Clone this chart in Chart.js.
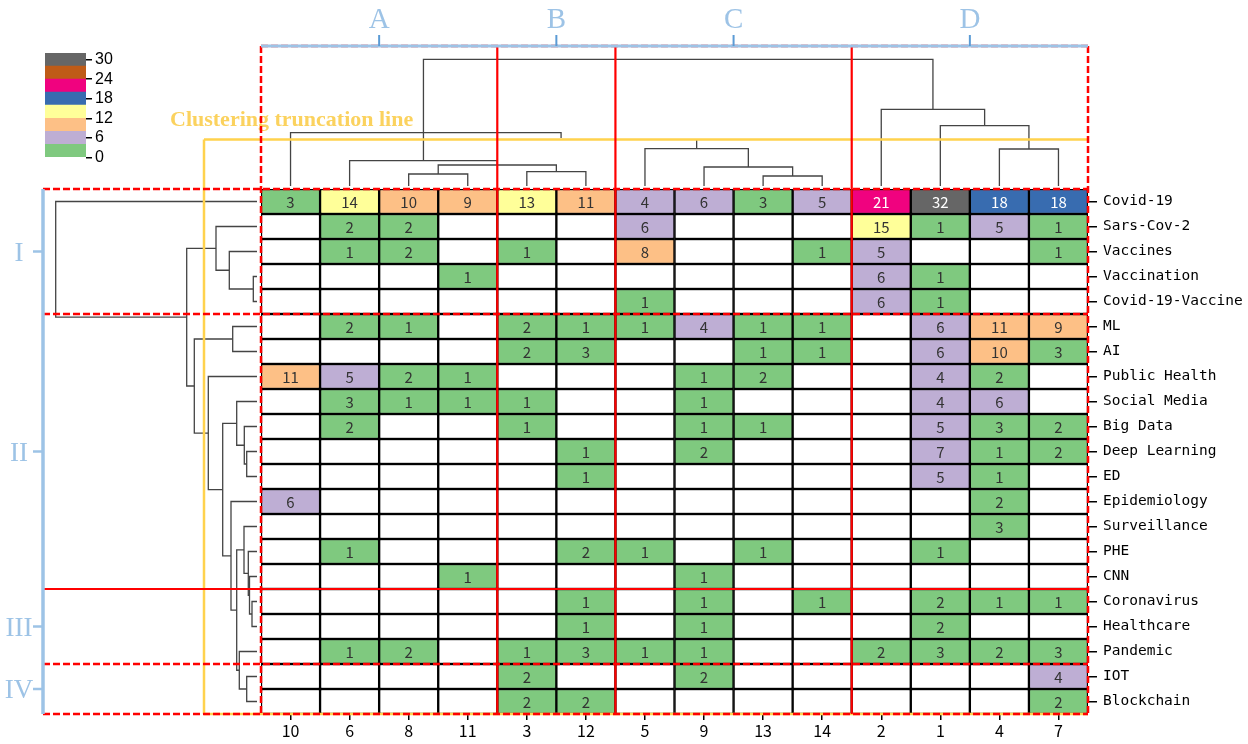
<!DOCTYPE html>
<html>
<head>
<meta charset="utf-8">
<script src="https://cdn.jsdelivr.net/npm/chart.js@4.4.1/dist/chart.umd.min.js"></script>
<style>
  html, body { margin: 0; padding: 0; background: #fff; }
  #wrap { position: relative; width: 1248px; height: 744px; }
  #heatmap { position: absolute; left: 0; top: 0; }
  #colorbar { position: absolute; left: 30px; top: 40px; }
</style>
</head>
<body>
<div id="wrap">
  <canvas id="heatmap" width="1248" height="744"></canvas>
  <canvas id="colorbar" width="100" height="130"></canvas>
</div>
<script>
'use strict';

// --- datos ---
const colLabels = ['10', '6', '8', '11', '3', '12', '5', '9', '13', '14', '2', '1', '4', '7'];
const rowLabels = ['Covid-19', 'Sars-Cov-2', 'Vaccines', 'Vaccination', 'Covid-19-Vaccine', 'ML', 'AI',
  'Public Health', 'Social Media', 'Big Data', 'Deep Learning', 'ED', 'Epidemiology', 'Surveillance',
  'PHE', 'CNN', 'Coronavirus', 'Healthcare', 'Pandemic', 'IOT', 'Blockchain'];

const counts = [
  [3, 14, 10, 9, 13, 11, 4, 6, 3, 5, 21, 32, 18, 18],
  [0, 2, 2, 0, 0, 0, 6, 0, 0, 0, 15, 1, 5, 1],
  [0, 1, 2, 0, 1, 0, 8, 0, 0, 1, 5, 0, 0, 1],
  [0, 0, 0, 1, 0, 0, 0, 0, 0, 0, 6, 1, 0, 0],
  [0, 0, 0, 0, 0, 0, 1, 0, 0, 0, 6, 1, 0, 0],
  [0, 2, 1, 0, 2, 1, 1, 4, 1, 1, 0, 6, 11, 9],
  [0, 0, 0, 0, 2, 3, 0, 0, 1, 1, 0, 6, 10, 3],
  [11, 5, 2, 1, 0, 0, 0, 1, 2, 0, 0, 4, 2, 0],
  [0, 3, 1, 1, 1, 0, 0, 1, 0, 0, 0, 4, 6, 0],
  [0, 2, 0, 0, 1, 0, 0, 1, 1, 0, 0, 5, 3, 2],
  [0, 0, 0, 0, 0, 1, 0, 2, 0, 0, 0, 7, 1, 2],
  [0, 0, 0, 0, 0, 1, 0, 0, 0, 0, 0, 5, 1, 0],
  [6, 0, 0, 0, 0, 0, 0, 0, 0, 0, 0, 0, 2, 0],
  [0, 0, 0, 0, 0, 0, 0, 0, 0, 0, 0, 0, 3, 0],
  [0, 1, 0, 0, 0, 2, 1, 0, 1, 0, 0, 1, 0, 0],
  [0, 0, 0, 1, 0, 0, 0, 1, 0, 0, 0, 0, 0, 0],
  [0, 0, 0, 0, 0, 1, 0, 1, 0, 1, 0, 2, 1, 1],
  [0, 0, 0, 0, 0, 1, 0, 1, 0, 0, 0, 2, 0, 0],
  [0, 1, 2, 0, 1, 3, 1, 1, 0, 0, 2, 3, 2, 3],
  [0, 0, 0, 0, 2, 0, 0, 2, 0, 0, 0, 0, 0, 4],
  [0, 0, 0, 0, 2, 2, 0, 0, 0, 0, 0, 0, 0, 2],
];

// escala de color (paleta Accent, tramos de 4)
const binStarts = [0, 4, 8, 12, 16, 20, 24, 28];
const binSize = 4;
const binColors = ['#7fc97f', '#beaed4', '#fdc086', '#ffff99', '#386cb0', '#f0027f', '#bf5b17', '#666666'];
const colorbarTicks = [0, 6, 12, 18, 24, 30];

// grupos [etiqueta, primero, último]
const colGroups = [['A', 0, 3], ['B', 4, 5], ['C', 6, 9], ['D', 10, 13]];
const rowGroups = [['I', 0, 4], ['II', 5, 15], ['III', 16, 18], ['IV', 19, 20]];

// dendrogramas: [a, b, altura]; los nodos nuevos se numeran tras las hojas
const colLinkage = [
  [2, 3, 1.2], [4, 5, 1.43], [14, 15, 2.1], [1, 16, 2.53],
  [8, 9, 1.0], [7, 18, 1.9], [6, 19, 3.73],
  [12, 13, 3.7], [11, 21, 6.03], [10, 22, 7.67],
  [17, 23, 12.67],
];
// tramos retocados a mano en la figura original: [xa, xb, ha, hb, hTop]
const colExtraLinks = [[0, 4.58, 0, 4.8, 5.33], [6.875, 6.875, 3.73, 3.73, 4.7]];
const rowLinkage = [
  [3, 4, 0.37], [2, 21, 2.77], [1, 22, 4.1],
  [5, 6, 2.43],
  [10, 11, 1.03], [9, 25, 1.27], [8, 26, 2.03],
  [16, 17, 0.5], [15, 28, 0.75], [14, 29, 0.87], [13, 30, 1.3],
  [19, 20, 1.03], [18, 32, 1.77], [31, 33, 2.03],
  [12, 34, 2.6], [27, 35, 3.43], [7, 36, 4.87], [24, 37, 6.27], [23, 38, 7.03],
  [0, 39, 20.13],
];
const colCut = 4.65;
const rowCut = 5.3;
const colBracketH = 14;
const rowBracketH = 21.4;

// --- geometría ---
const GRID = { left: 261, top: 189, right: 1088, bottom: 714 };
const DEND_PX = 10; // px por unidad de altura
const LEAF_GAP = 3;

const RED = '#ff0000';
const BLUE = '#9dc3e6';
const BLUE_TICK = '#5b9bd5';
const YELLOW = '#ffd24d';

function cellColor(v) {
  if (!v) return '#ffffff';
  const i = Math.min(binColors.length - 1, Math.floor(v / binSize));
  return binColors[i];
}

function linkSegments(n, linkage) {
  const pos = [];
  const hgt = [];
  for (let i = 0; i < n; i++) { pos.push(i); hgt.push(0); }
  return linkage.map(([a, b, h]) => {
    pos.push((pos[a] + pos[b]) / 2);
    hgt.push(h);
    return [pos[a], pos[b], hgt[a], hgt[b], h];
  });
}

const lineStyle = { type: 'line', borderColor: '#444', borderWidth: 1.3, pointRadius: 0, fill: false, tension: 0, clip: false };

const topLinks = linkSegments(colLabels.length, colLinkage).concat(colExtraLinks);
const topSets = topLinks.map(([pa, pb, ha, hb, ht]) => Object.assign({
  xAxisID: 'xd', yAxisID: 'yt',
  data: [{ x: pa, y: ha }, { x: pa, y: ht }, { x: pb, y: ht }, { x: pb, y: hb }],
}, lineStyle));

const leftLinks = linkSegments(rowLabels.length, rowLinkage);
const leftSets = leftLinks.map(([pa, pb, ha, hb, ht]) => Object.assign({
  xAxisID: 'xl', yAxisID: 'y',
  data: [{ x: ha, y: pa + 0.5 }, { x: ht, y: pa + 0.5 }, { x: ht, y: pb + 0.5 }, { x: hb, y: pb + 0.5 }],
}, lineStyle));

const cellSets = rowLabels.map((name, r) => ({
  type: 'bar', label: name, xAxisID: 'x', yAxisID: 'y',
  data: colLabels.map(() => [r, r + 1]),
  backgroundColor: counts[r].map(cellColor),
  borderColor: '#000', borderWidth: 1.5, borderSkipped: false,
  grouped: false, barPercentage: 1, categoryPercentage: 1,
}));

// números dentro de las celdas
const cellTextPlugin = {
  id: 'cellText',
  afterDatasetsDraw(chart) {
    const { ctx, scales } = chart;
    ctx.save();
    ctx.font = '15px "Noto Sans CJK SC", "DejaVu Sans", sans-serif';
    ctx.textAlign = 'center';
    ctx.textBaseline = 'middle';
    counts.forEach((row, r) => {
      row.forEach((v, c) => {
        if (!v) return;
        ctx.fillStyle = Math.floor(v / binSize) >= 4 ? '#ffffff' : '#333333';
        ctx.fillText(String(v), scales.x.getPixelForValue(c), scales.y.getPixelForValue(r + 0.5) + 1);
      });
    });
    ctx.restore();
  },
};

// líneas rojas de corte, truncamiento amarillo y corchetes azules
const decorPlugin = {
  id: 'decor',
  afterDraw(chart) {
    const { ctx, scales } = chart;
    const X = (v) => scales.xd.getPixelForValue(v);
    const Y = (v) => scales.y.getPixelForValue(v);
    const HT = (v) => scales.yt.getPixelForValue(v);
    const HL = (v) => scales.xl.getPixelForValue(v);
    const gx0 = X(-0.5);
    const gx1 = X(colLabels.length - 0.5);
    const gy1 = Y(rowLabels.length);
    const boxTop = HT(colBracketH);
    const boxLeft = HL(rowBracketH);

    const seg = (x1, y1, x2, y2, color, width, dash) => {
      ctx.beginPath();
      ctx.strokeStyle = color;
      ctx.lineWidth = width;
      ctx.setLineDash(dash || []);
      ctx.moveTo(x1, y1);
      ctx.lineTo(x2, y2);
      ctx.stroke();
    };

    ctx.save();
    // truncamiento
    const yCut = HT(colCut);
    const xCut = HL(rowCut);
    seg(xCut, yCut, gx1, yCut, YELLOW, 2.5);
    seg(xCut, yCut, xCut, gy1, YELLOW, 2.5);
    seg(xCut, gy1, gx1, gy1, YELLOW, 2.5);
    ctx.fillStyle = '#fbd25e';
    ctx.font = 'bold 22px "Liberation Serif", serif';
    ctx.textAlign = 'left';
    ctx.textBaseline = 'alphabetic';
    ctx.fillText('Clustering truncation line', xCut - 34, yCut - 14);

    // rojo: bordes discontinuos, cortes internos continuos (salvo I/II y III/IV)
    const dash = [7, 3];
    seg(gx0, boxTop, gx1, boxTop, RED, 2.5, dash);
    colGroups.forEach(([, first], i) => {
      const x = X(first - 0.5);
      if (i === 0) seg(x, boxTop, x, gy1, RED, 2.5, dash);
      else seg(x, boxTop, x, gy1, RED, 2.2);
    });
    seg(gx1, boxTop, gx1, gy1, RED, 2.5, dash);
    const rowStyles = [dash, dash, null, dash];
    rowGroups.forEach(([, first], i) => {
      const y = Y(first);
      if (rowStyles[i]) seg(boxLeft, y, gx1, y, RED, 2.5, rowStyles[i]);
      else seg(boxLeft, y, gx1, y, RED, 2.2);
    });
    seg(boxLeft, gy1, gx1, gy1, RED, 2.5, dash);

    // azul: corchetes de grupos
    ctx.setLineDash([]);
    seg(gx0, boxTop, gx1, boxTop, BLUE, 3);
    seg(boxLeft, Y(0), boxLeft, gy1, BLUE, 3.5);
    ctx.fillStyle = BLUE;
    ctx.textAlign = 'center';
    ctx.font = '29px "Liberation Serif", serif';
    colGroups.forEach(([label, first, last]) => {
      const x = X((first + last) / 2);
      seg(x, boxTop, x, boxTop - 11, BLUE_TICK, 2);
      ctx.fillText(label, x, boxTop - 18);
    });
    ctx.font = '27px "Liberation Serif", serif';
    rowGroups.forEach(([label, first, last]) => {
      const y = Y((first + last) / 2 + 0.5);
      seg(boxLeft, y, boxLeft - 10, y, BLUE, 2.5);
      ctx.fillText(label, boxLeft - 24, y + 9);
    });
    ctx.restore();
  },
};

const plotH = GRID.bottom - GRID.top;
const plotW = GRID.right - GRID.left;
const ytMin = -(plotH + LEAF_GAP) / DEND_PX;
const xlMax = -(GRID.left - 257) / DEND_PX;

new Chart(document.getElementById('heatmap'), {
  type: 'bar',
  data: { labels: colLabels, datasets: cellSets.concat(topSets, leftSets) },
  options: {
    responsive: false,
    animation: false,
    events: [],
    layout: { padding: { left: GRID.left, top: GRID.top, right: 0, bottom: 0 } },
    plugins: { legend: { display: false }, tooltip: { enabled: false } },
    scales: {
      x: {
        type: 'category', position: 'bottom', offset: true,
        grid: { offset: false, drawOnChartArea: false, tickLength: 6, color: '#000', lineWidth: 1.5 },
        border: { display: false },
        ticks: { color: '#000', font: { family: '"Noto Sans CJK SC", "DejaVu Sans", sans-serif', size: 16 }, padding: 1, autoSkip: false, maxRotation: 0 },
        afterFit: (s) => { s.height = 744 - GRID.bottom; },
      },
      y: {
        type: 'linear', position: 'right', reverse: true, min: 0, max: rowLabels.length,
        afterBuildTicks: (s) => { s.ticks = rowLabels.map((_, i) => ({ value: i + 0.5 })); },
        grid: { drawOnChartArea: false, tickLength: 9, color: '#000', lineWidth: 1.5 },
        border: { display: false },
        ticks: { color: '#000', font: { family: '"DejaVu Sans Mono", monospace', size: 14.5 }, padding: 6, autoSkip: false,
          callback: (v) => rowLabels[Math.floor(v)] },
        afterFit: (s) => { s.width = 1248 - GRID.right; },
      },
      xd: { type: 'linear', axis: 'x', display: false, offset: false, min: -0.5, max: colLabels.length - 0.5 },
      yt: { type: 'linear', axis: 'y', display: false, offset: false, min: ytMin, max: ytMin + plotH / DEND_PX },
      xl: { type: 'linear', axis: 'x', display: false, offset: false, reverse: true, min: xlMax - plotW / DEND_PX, max: xlMax },
    },
  },
  plugins: [cellTextPlugin, decorPlugin],
});

// barra de color
new Chart(document.getElementById('colorbar'), {
  type: 'bar',
  data: {
    labels: [''],
    datasets: binStarts.map((lo, i) => ({
      data: [[lo, lo + binSize]], backgroundColor: binColors[i], borderWidth: 0,
      grouped: false, barPercentage: 1, categoryPercentage: 1,
    })),
  },
  options: {
    responsive: false,
    animation: false,
    events: [],
    layout: { padding: { left: 15, top: 13, right: 4, bottom: 11.5 } },
    plugins: { legend: { display: false }, tooltip: { enabled: false } },
    scales: {
      x: { display: false },
      y: {
        position: 'right', min: 0, max: binStarts[binStarts.length - 1] + binSize,
        afterBuildTicks: (s) => { s.ticks = colorbarTicks.map((v) => ({ value: v })); },
        grid: { drawOnChartArea: false, tickLength: 6, color: '#000', lineWidth: 1.5 },
        border: { display: false },
        ticks: { color: '#000', font: { family: '"Liberation Sans", Arial, sans-serif', size: 16 }, padding: 3, autoSkip: false },
        afterFit: (s) => { s.width = 40; },
      },
    },
  },
});
</script>
</body>
</html>
